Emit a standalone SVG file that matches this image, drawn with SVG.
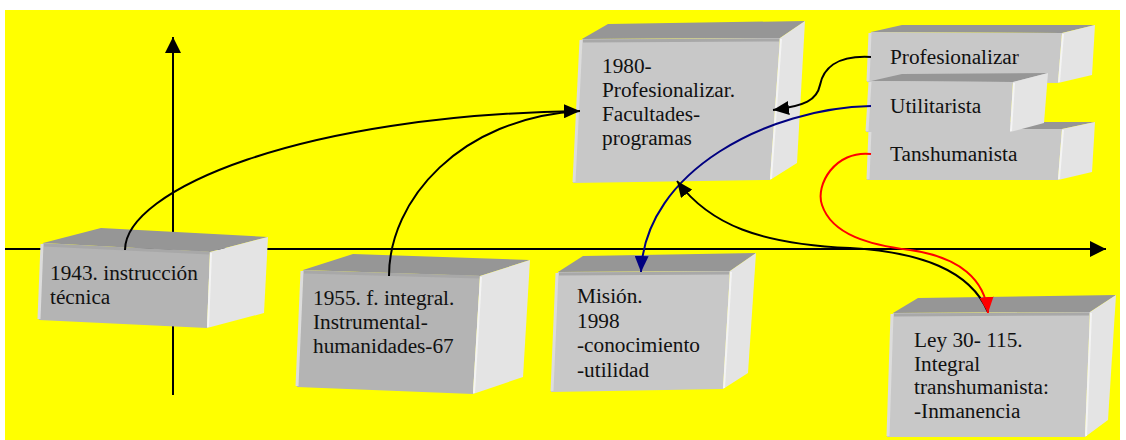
<svg xmlns="http://www.w3.org/2000/svg" width="1126" height="440" viewBox="0 0 1126 440">
<defs>
<style>
.top{fill:#969696}
.frontA{fill:#b4b4b4}
.frontB{fill:#c8c8c8}
.side{fill:#e4e4e4}
.edge{stroke:#dcdcdc;stroke-width:3;fill:none}
.edgeT{stroke:#a8a8a8;stroke-width:3;fill:none}
.edgeS{stroke:#f4f4f4;stroke-width:2;fill:none}
.lbl{font-family:"Liberation Serif","Times New Roman",serif;font-size:21.3px;fill:#111}
.axis{stroke:#000;stroke-width:2;fill:none}
.k{stroke:#000;stroke-width:2;fill:none}
.b{stroke:#000080;stroke-width:2;fill:none}
.r{stroke:#ff0000;stroke-width:2;fill:none}
</style>
<marker id="ak" markerUnits="userSpaceOnUse" markerWidth="18" markerHeight="14" refX="16" refY="7" orient="auto"><path d="M0,0 L16,7 L0,14 z" fill="#000"/></marker>
<marker id="ab" markerUnits="userSpaceOnUse" markerWidth="18" markerHeight="14" refX="16" refY="7" orient="auto"><path d="M0,0 L16,7 L0,14 z" fill="#000080"/></marker>
<marker id="ar" markerUnits="userSpaceOnUse" markerWidth="18" markerHeight="14" refX="16" refY="7" orient="auto"><path d="M0,0 L16,7 L0,14 z" fill="#ff0000"/></marker>
<marker id="ax" markerUnits="userSpaceOnUse" markerWidth="18" markerHeight="16" refX="16" refY="8" orient="auto"><path d="M0,0 L16,8 L0,16 z" fill="#000"/></marker>
</defs>
<rect x="0" y="0" width="1126" height="440" fill="#ffffff"/>
<rect x="5" y="10" width="1115" height="430" fill="#ffff00"/>
<g id="axes">
<line class="axis" x1="5" y1="249" x2="1106" y2="249" marker-end="url(#ax)"/>
<line class="axis" x1="173" y1="395" x2="173" y2="37" marker-end="url(#ax)"/>
</g>
<g id="n1943">
<polygon class="top" points="43,243 101,228 268,237 210,252"/>
<polygon class="frontA" points="43,243 210,252 207,328 39,320"/>
<polygon class="side" points="210,252 268,237 264,313 207,328"/>
<polyline class="edgeT" points="44,245 209,253"/>
<polyline class="edge" points="42,244 39,319"/>
<polyline class="edgeS" points="211,253 208,327"/>
<text class="lbl" x="50" y="280">1943. instrucción</text>
<text class="lbl" x="50" y="304">técnica</text>
</g>
<g id="n1955">
<polygon class="top" points="303,270 353,254 530,260 480,276"/>
<polygon class="frontA" points="303,270 480,276 473,394 297,387"/>
<polygon class="side" points="480,276 530,260 523,377 473,394"/>
<polyline class="edgeT" points="304,272 479,277"/>
<polyline class="edge" points="302,271 297,386"/>
<polyline class="edgeS" points="481,277 474,393"/>
<text class="lbl" x="313" y="305">1955. f. integral.</text>
<text class="lbl" x="313" y="329">Instrumental-</text>
<text class="lbl" x="313" y="353">humanidades-67</text>
</g>
<g id="n1980">
<polygon class="top" points="582,39 608,24 805,21 780,38"/>
<polygon class="frontB" points="582,39 780,38 770,180 573,183"/>
<polygon class="side" points="780,38 805,21 797,163 770,180"/>
<polyline class="edgeT" points="583,41 779,40"/>
<polyline class="edge" points="581,40 574,182"/>
<polyline class="edgeS" points="781,39 771,179"/>
<text class="lbl" x="602" y="73">1980-</text>
<text class="lbl" x="602" y="97">Profesionalizar.</text>
<text class="lbl" x="602" y="121">Facultades-</text>
<text class="lbl" x="602" y="145">programas</text>
</g>
<g id="nProf">
<polygon class="top" points="871,32 902,25 1095,25 1062,33"/>
<polygon class="frontB" points="871,32 1062,33 1058,83 867,82"/>
<polygon class="side" points="1062,33 1095,25 1092,75 1058,83"/>
<polyline class="edge" points="870,33 868,81"/>
<polyline class="edgeS" points="1063,34 1059,82"/>
<text class="lbl" x="890" y="64">Profesionalizar</text>
</g>
<g id="nTrans">
<polygon class="top" points="871,129 902,122 1095,122 1062,129"/>
<polygon class="frontB" points="871,129 1062,129 1058,180 867,180"/>
<polygon class="side" points="1062,129 1095,122 1092,172 1058,180"/>
<polyline class="edge" points="870,130 868,179"/>
<polyline class="edgeS" points="1063,130 1059,179"/>
<text class="lbl" x="890" y="161">Tanshumanista</text>
</g>
<g id="nUtil">
<polygon class="top" points="871,81 902,74 1048,73 1013,82"/>
<polygon class="frontB" points="871,81 1013,82 1010,132 866,132"/>
<polygon class="side" points="1013,82 1048,73 1044,123 1010,132"/>
<polyline class="edge" points="870,82 867,131"/>
<polyline class="edgeS" points="1014,83 1011,131"/>
<text class="lbl" x="890" y="113">Utilitarista</text>
</g>
<g id="nMision">
<polygon class="top" points="558,272 583,256 756,253 730,271"/>
<polygon class="frontB" points="558,272 730,271 723,389 551,392"/>
<polygon class="side" points="730,271 756,253 748,373 723,389"/>
<polyline class="edgeT" points="559,274 729,273"/>
<polyline class="edge" points="557,273 552,391"/>
<polyline class="edgeS" points="731,272 724,388"/>
<text class="lbl" x="577" y="303">Misión.</text>
<text class="lbl" x="577" y="328">1998</text>
<text class="lbl" x="577" y="352">-conocimiento</text>
<text class="lbl" x="577" y="377">-utilidad</text>
</g>
<g id="nLey">
<polygon class="top" points="893,313 918,298 1116,295 1090,312"/>
<polygon class="frontB" points="893,313 1090,312 1085,437 887,437"/>
<polygon class="side" points="1090,312 1116,295 1108,420 1085,437"/>
<polyline class="edgeT" points="894,315 1089,314"/>
<polyline class="edge" points="892,314 888,436"/>
<polyline class="edgeS" points="1091,313 1086,436"/>
<text class="lbl" x="914" y="347">Ley 30- 115.</text>
<text class="lbl" x="914" y="371">Integral</text>
<text class="lbl" x="914" y="394">transhumanista:</text>
<text class="lbl" x="914" y="418">-Inmanencia</text>
</g>
<g id="connectors">
<path class="k" d="M125,250 C125,190 300,115 580,111" marker-end="url(#ak)"/>
<path class="k" d="M389,276 C389,200 460,118 580,111"/>
<path class="k" d="M871,57 C835,55 823,70 820,85 C817,100 805,106 773,110" marker-end="url(#ak)"/>
<path class="b" d="M871,106 C770,108 645,170 641,272" marker-end="url(#ab)"/>
<path class="k" d="M988,312 C970,270 920,252 850,248 C760,244 710,225 677,181" marker-end="url(#ak)"/>
<path class="r" d="M871,154 C835,150 815,185 822,205 C832,235 870,245 910,250 C960,257 985,280 988,313" marker-end="url(#ar)"/>
</g>
</svg>
